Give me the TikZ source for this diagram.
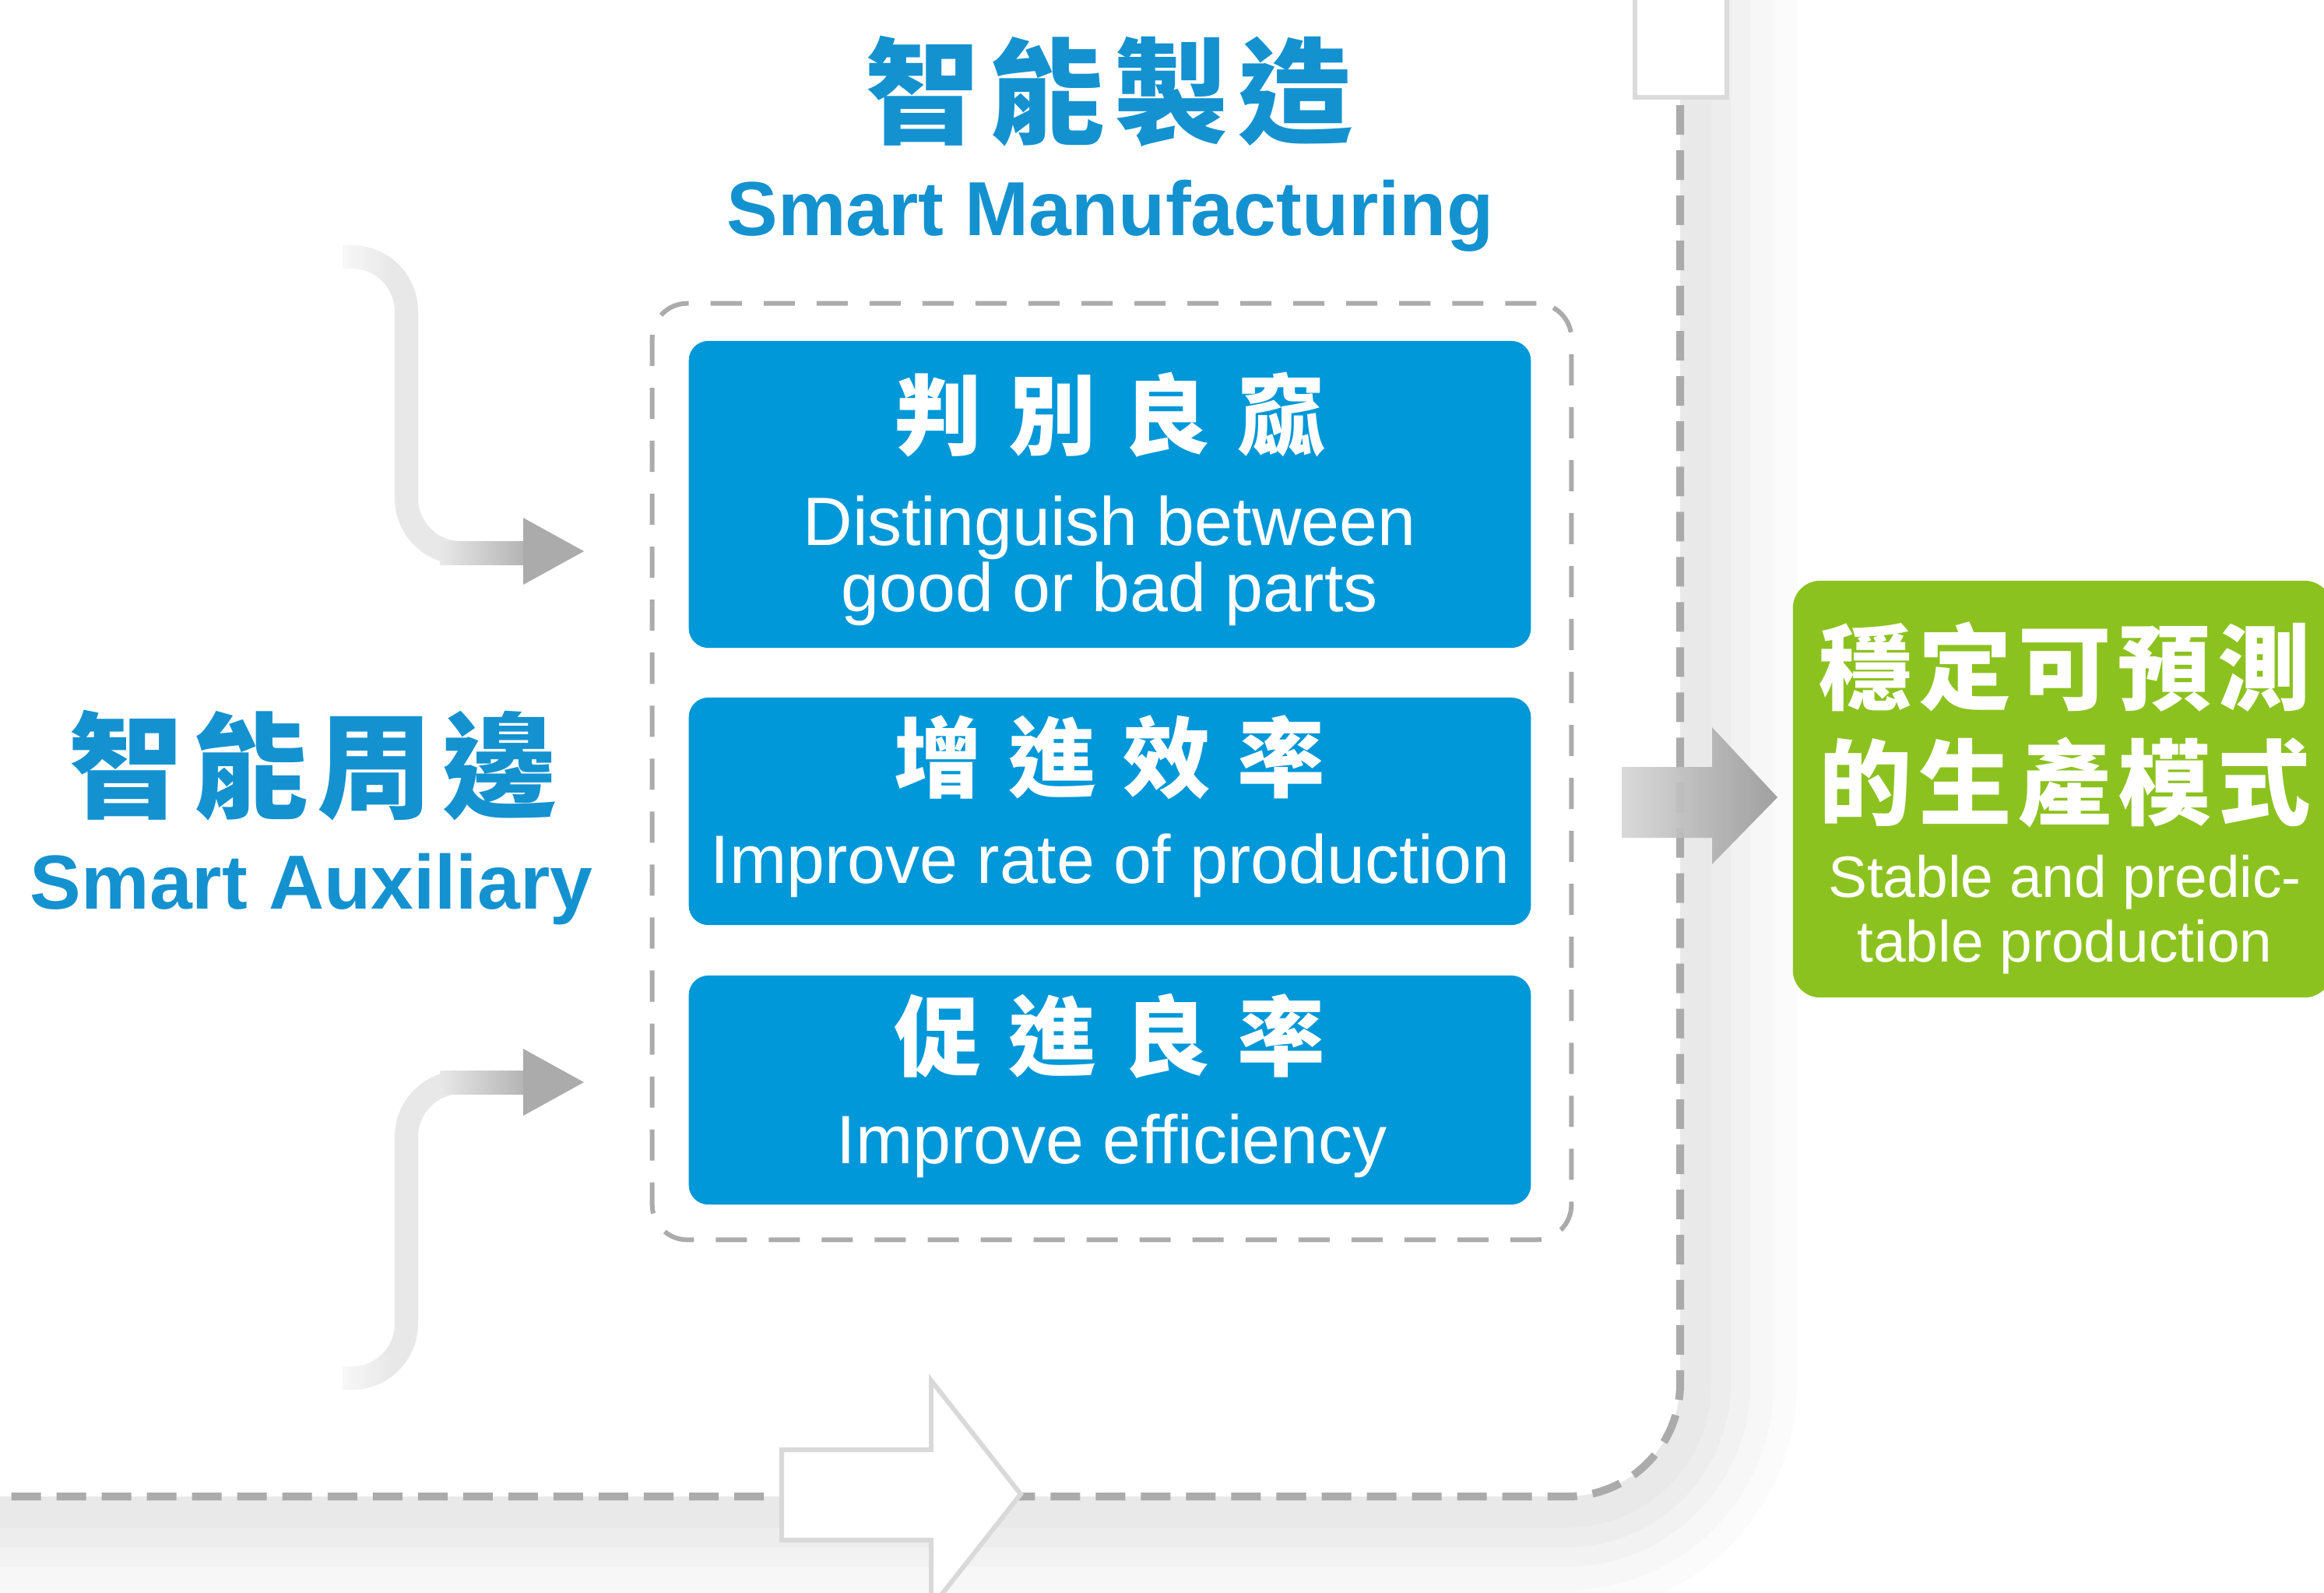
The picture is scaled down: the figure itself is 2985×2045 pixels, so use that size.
\documentclass[tikz,border=0pt]{standalone}
\usepackage{fontspec}
\setmainfont{Liberation Sans}
\newfontfamily\cjk{Noto Sans CJK TC}
\usetikzlibrary{fadings}
\definecolor{boxblue}{RGB}{0,152,216}
\definecolor{titleblue}{RGB}{20,146,208}
\definecolor{leafgreen}{RGB}{140,194,31}
\begin{document}
\begin{tikzpicture}[x=0.01cm,y=-0.01cm,
  cjktitle/.style={text=titleblue,inner sep=0pt,font=\cjk\bfseries\fontsize{42pt}{42pt}\selectfont},
  entitle/.style={text=titleblue,inner sep=0pt,font=\bfseries\fontsize{28pt}{28pt}\selectfont},
  cjkbox/.style={text=white,inner sep=0pt,font=\cjk\bfseries\fontsize{32pt}{32pt}\selectfont},
  enbox/.style={text=white,inner sep=0pt,anchor=base,font=\fontsize{25pt}{25pt}\selectfont},
  cjkgreen/.style={text=white,inner sep=0pt,font=\cjk\bfseries\fontsize{34pt}{34pt}\selectfont},
  engreen/.style={text=white,inner sep=0pt,anchor=base,font=\fontsize{21.3pt}{21.3pt}\selectfont},
  bluebox/.style={fill=boxblue,rounded corners=0.25cm,inner sep=0pt,minimum width=10.81cm},
  greenbox/.style={fill=leafgreen,rounded corners=0.35cm,inner sep=0pt},
  zonebox/.style={draw=black!33,line width=0.06cm,dash pattern=on 0.4cm off 0.28cm,rounded corners=0.45cm,inner sep=0pt},
  framedash/.style={draw=black!33,line width=0.1cm,dash pattern=on 0.38cm off 0.2cm,rounded corners=1.45cm},
  bentline/.style={draw=black!9,line width=0.3cm,rounded corners=0.7cm},
  headfill/.style={fill=black!33},
  whitearrow/.style={fill=white,draw=black!15,line width=0.06cm,line join=miter},
  shadowline/.style={rounded corners=1.45cm}
]
\useasboundingbox (0,0) rectangle (2985,2045);
\fill[white] (0,0) rectangle (2985,2045);

% soft shadow outside the frame
\begin{scope}
  \clip[rounded corners=1.45cm] (2158,-200) -- (2158,1922) -- (-200,1922) -- (-200,2300) -- (3200,2300) -- (3200,-200) -- cycle;
  \draw[shadowline,line width=3.0cm,black!1.5] (2158,-200) -- (2158,1922) -- (-200,1922);
  \draw[shadowline,line width=2.4cm,black!3] (2158,-200) -- (2158,1922) -- (-200,1922);
  \draw[shadowline,line width=1.8cm,black!5] (2158,-200) -- (2158,1922) -- (-200,1922);
  \draw[shadowline,line width=1.3cm,black!7] (2158,-200) -- (2158,1922) -- (-200,1922);
  \draw[shadowline,line width=0.8cm,black!8.5] (2158,-200) -- (2158,1922) -- (-200,1922);
\end{scope}

% frame dashed line
\coordinate (ftop) at (2158,135);
\coordinate (fcorner) at (2158,1922);
\coordinate (fleft) at (0,1922);
\draw[framedash] (ftop) -- (fcorner) -- (fleft);

% small white block at the top of the frame
\node[whitearrow,draw=black!14,minimum width=1.18cm,minimum height=1.45cm] (topblock) at (2159,52) {};

% white arrow on the bottom line
\draw[whitearrow] (1004,1862) -- (1196,1862) -- (1196,1773) -- (1311,1919) -- (1196,2065) -- (1196,1978) -- (1004,1978) -- cycle;

% titles
\node[cjktitle] (mfgcn) at (1425,117) {智\hspace{0.12cm}能\hspace{0.12cm}製\hspace{0.12cm}造};
\node[entitle,anchor=base] (mfgen) at (1426,302) {Smart Manufacturing};
\node[cjktitle] (auxcn) at (402,983) {智\hspace{0.12cm}能\hspace{0.12cm}周\hspace{0.12cm}邊};
\node[entitle,anchor=base] (auxen) at (400,1167) {Smart Auxiliary};

% dashed zone around the blue boxes
\node[zonebox,minimum width=11.8cm,minimum height=12.02cm] (zone) at (1428,991) {};

% blue boxes
\node[bluebox,minimum height=3.94cm] (b1) at (1425.5,635) {};
\node[bluebox,minimum height=2.92cm] (b2) at (1425.5,1042) {};
\node[bluebox,minimum height=2.94cm] (b3) at (1425.5,1400) {};

\node[cjkbox] (b1cn) at (1425,533) {判\hspace{0.345cm}別\hspace{0.345cm}良\hspace{0.345cm}窳};
\node[enbox] (b1en1) at (1425,700) {Distinguish between};
\node[enbox] (b1en2) at (1425,785) {good or bad parts};
\node[cjkbox] (b2cn) at (1425,973) {增\hspace{0.345cm}進\hspace{0.345cm}效\hspace{0.345cm}率};
\node[enbox] (b2en) at (1426,1134) {Improve rate of production};
\node[cjkbox] (b3cn) at (1425,1331) {促\hspace{0.345cm}進\hspace{0.345cm}良\hspace{0.345cm}率};
\node[enbox] (b3en) at (1428,1494) {Improve efficiency};

% bent arrows from the auxiliary side
\coordinate (ua0) at (440,330);
\coordinate (ua1) at (522,330);
\coordinate (ua2) at (522,710);
\coordinate (ua3) at (676,710);
\draw[bentline] (ua0) -- (ua1) -- (ua2) -- (ua3);
\fill[white,fill opacity=0.85,path fading=east] (425,305) rectangle (505,360);
\shade[left color=black!9,right color=black!30] (565,695) rectangle (676,725);
\fill[headfill] (672,665) -- (750,708) -- (672,751) -- cycle;

\coordinate (la0) at (440,1770);
\coordinate (la1) at (522,1770);
\coordinate (la2) at (522,1390);
\coordinate (la3) at (676,1390);
\draw[bentline] (la0) -- (la1) -- (la2) -- (la3);
\fill[white,fill opacity=0.85,path fading=east] (425,1740) rectangle (505,1795);
\shade[left color=black!9,right color=black!30] (565,1375) rectangle (676,1405);
\fill[headfill] (672,1347) -- (750,1390) -- (672,1433) -- cycle;

% big gray arrow to the result
\shade[left color=black!16,right color=black!40,fill opacity=0.92] (2083,985) -- (2199,985) -- (2199,934) -- (2283,1024) -- (2199,1110) -- (2199,1076) -- (2083,1076) -- cycle;

% green result box
\node[greenbox,minimum width=6.92cm,minimum height=5.35cm] (result) at (2649,1013.5) {};
\node[cjkgreen] (rcn1) at (2652,857) {穩\hspace{0.085cm}定\hspace{0.085cm}可\hspace{0.085cm}預\hspace{0.085cm}測};
\node[cjkgreen] (rcn2) at (2652,1005) {的\hspace{0.085cm}生\hspace{0.085cm}產\hspace{0.085cm}模\hspace{0.085cm}式};
\node[engreen] (ren1) at (2652,1152) {Stable and predic-};
\node[engreen] (ren2) at (2652,1235) {table production};
\end{tikzpicture}
\end{document}
